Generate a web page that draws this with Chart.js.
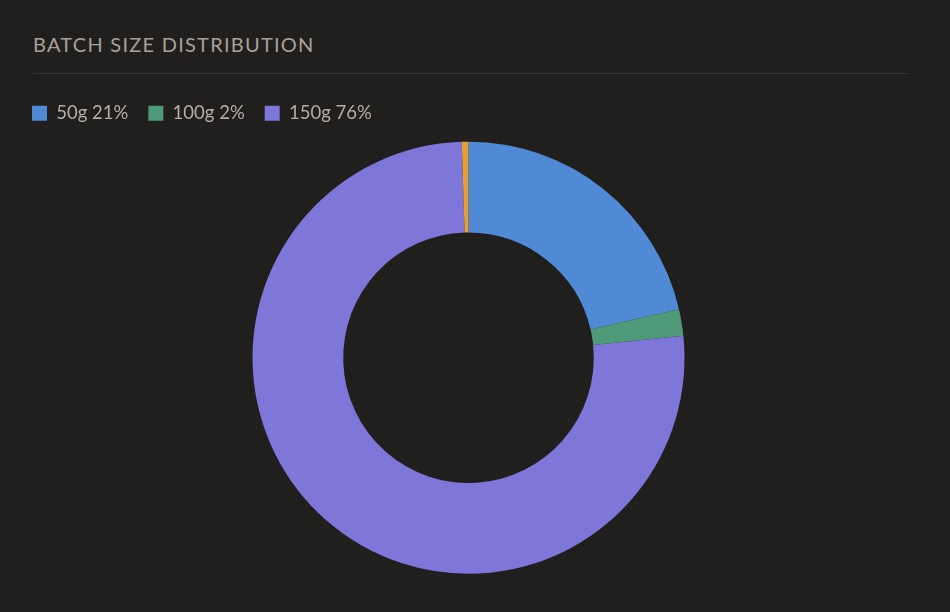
<!DOCTYPE html>
<html>
<head>
<meta charset="utf-8">
<script src="https://cdn.jsdelivr.net/npm/chart.js@4.4.1/dist/chart.umd.min.js"></script>
<style>
  html, body { margin: 0; padding: 0; background: #201f1e; }
  body { width: 950px; height: 612px; position: relative; overflow: hidden; font-family: Lato, "Noto Sans", sans-serif; }
  .title {
    position: absolute; left: 33px; top: 33px; width: 875px;
    margin: 0; padding-bottom: 18px;
    font-size: 20px; font-weight: normal; letter-spacing: 1.25px;
    color: #a7a299; line-height: 22px;
    border-bottom: 1px solid #353331;
  }
  .wrap { position: absolute; left: 12px; top: 68px; width: 913px; height: 531px; }
</style>
</head>
<body>
<h2 class="title">BATCH SIZE DISTRIBUTION</h2>
<div class="wrap"><canvas id="batchChart"></canvas></div>
<script>
// batch counts per size
var labels = ['50g', '100g', '150g', 'Other']
var counts = [43, 4, 153, 1]
var colors = ['#508ad7', '#4e9a78', '#7e76d8', '#e2a03c']
var legendShown = [true, true, true, false]

var total = counts.reduce(function (a, b) { return a + b }, 0)

var ctx = document.getElementById('batchChart').getContext('2d')
var chart = new Chart(ctx, {
    type: 'doughnut',
    data: {
        labels: labels,
        datasets: [{
            data: counts,
            backgroundColor: colors,
            borderWidth: 0,
            hoverOffset: 0
        }]
    },
    options: {
        responsive: true,
        maintainAspectRatio: false,
        animation: false,
        radius: 216,
        cutout: '58%',
        layout: { padding: { top: 16, bottom: 16 } },
        plugins: {
            tooltip: { enabled: false },
            legend: {
                position: 'top',
                align: 'start',
                labels: {
                    color: '#b3aea6',
                    font: { family: 'Lato', size: 18.5 },
                    boxWidth: 15,
                    boxHeight: 15,
                    padding: 20,
                    useBorderRadius: true,
                    borderRadius: 3,
                    generateLabels: function (c) {
                        var ds = c.data.datasets[0]
                        return c.data.labels.map(function (l, i) {
                            return {
                                text: l + ' ' + Math.round(ds.data[i] / total * 100) + '%',
                                fillStyle: ds.backgroundColor[i],
                                strokeStyle: ds.backgroundColor[i],
                                lineWidth: 0,
                                fontColor: '#b3aea6',
                                index: i,
                                hidden: false
                            }
                        }).filter(function (item) { return legendShown[item.index] })
                    }
                }
            }
        }
    }
})
</script>
</body>
</html>
